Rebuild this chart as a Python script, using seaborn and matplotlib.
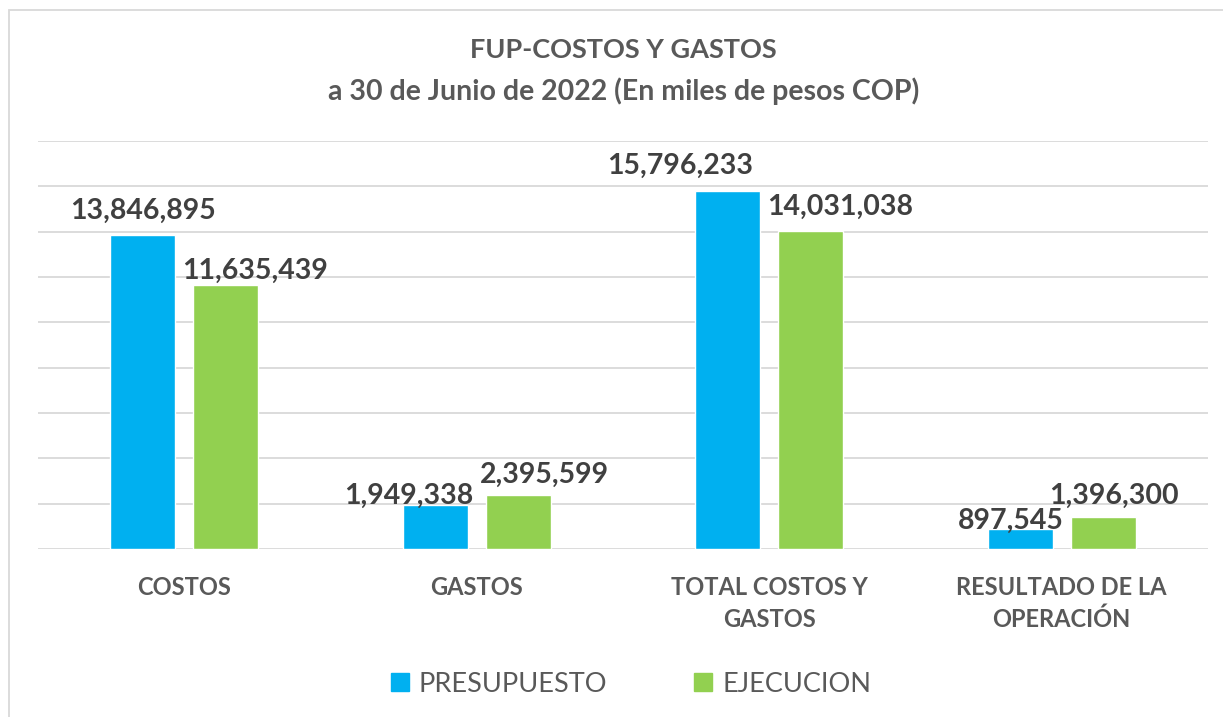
import pandas as pd
import matplotlib.pyplot as plt
import seaborn as sns
from matplotlib.patches import Rectangle

categorias = ["COSTOS", "GASTOS", "TOTAL COSTOS Y\nGASTOS", "RESULTADO DE LA\nOPERACIÓN"]
presupuesto = [13846895, 1949338, 15796233, 897545]
ejecucion = [11635439, 2395599, 14031038, 1396300]
series = ["PRESUPUESTO", "EJECUCION"]

ds = pd.DataFrame({
    "categoria": categorias * 2,
    "valor": presupuesto + ejecucion,
    "serie": [series[0]] * 4 + [series[1]] * 4,
})

sns.set_style("white")
plt.rcParams["font.family"] = ["Lato", "DejaVu Sans"]

texto = "#595959"
colores = {"PRESUPUESTO": "#00B0F0", "EJECUCION": "#92D050"}

fig = plt.figure(figsize=(12.23, 7.17), dpi=100)
ax = fig.add_axes([0.0311, 0.2343, 0.9566, 0.5690])

sns.barplot(data=ds, x="categoria", y="valor", hue="serie", palette=colores, saturation=1,
            width=0.568, gap=0.215, ax=ax, legend=False)

ax.set_ylim(0, 18000000)
ax.set_xlim(-0.5, 3.5)
ax.set_yticks(range(0, 18000001, 2000000))
ax.yaxis.grid(True, color="#d9d9d9", linewidth=1.3)
ax.set_axisbelow(True)
ax.tick_params(axis="y", left=False, labelleft=False)
ax.tick_params(axis="x", bottom=False, pad=16)
for lbl in ax.get_xticklabels():
    lbl.set_fontsize(17)
    lbl.set_fontweight("bold")
    lbl.set_color(texto)
    lbl.set_linespacing(1.45)
ax.set_xlabel("")
ax.set_ylabel("")
for s in ax.spines.values():
    s.set_visible(False)

# desplazamiento (pt) de cada etiqueta respecto a su barra, como en el original
desplaza_x = [[0, -19, -34, -7], [21, 19, 21, 8]]
desplaza_y = [[8, -2.8, 8.7, -3.5], [0.8, 5.1, 8, 5.8]]
for j, cont in enumerate(ax.containers):
    for i, barra in enumerate(cont):
        v = barra.get_height()
        ax.annotate(f"{v:,.0f}", (barra.get_x() + barra.get_width() / 2, v),
                    xytext=(desplaza_x[j][i], desplaza_y[j][i]), textcoords="offset points",
                    ha="center", va="bottom", fontsize=20.5, fontweight="bold", color="#404040")

fig.text(0.51, 0.93, "FUP-COSTOS Y GASTOS", ha="center", va="center",
         fontsize=19.5, fontweight="bold", color=texto)
fig.text(0.51, 0.873, "a 30 de Junio de 2022 (En miles de pesos COP)", ha="center", va="center",
         fontsize=20.5, fontweight="bold", color=texto)

manijas = [Rectangle((0, 0), 1, 1, color=colores[s]) for s in series]
fig.legend(manijas, series, loc="center", bbox_to_anchor=(0.516, 0.046), ncol=2,
           frameon=False, fontsize=19.5, labelcolor=texto, handlelength=0.67, handleheight=0.67,
           columnspacing=3.2, handletextpad=0.37)

fig.patches.append(Rectangle((9 / 1223, -0.01), 1.1, 1 - 10 / 717 + 0.01, transform=fig.transFigure,
                             fill=False, edgecolor="#d9d9d9", linewidth=1.3))

plt.savefig("out.png", dpi=100)
